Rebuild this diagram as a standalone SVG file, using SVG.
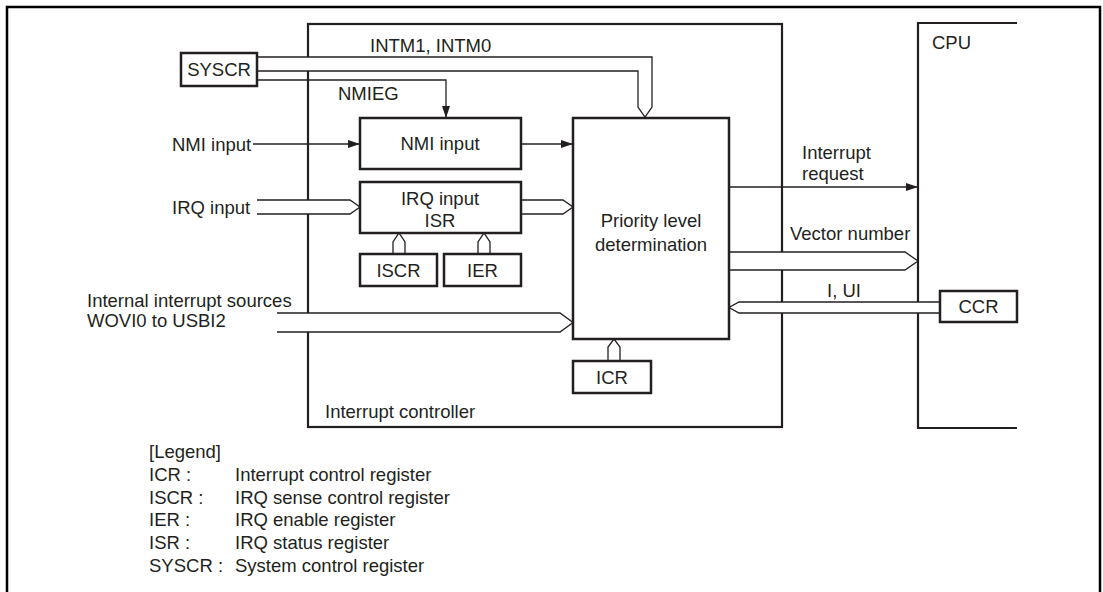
<svg xmlns="http://www.w3.org/2000/svg" width="1103" height="592" viewBox="0 0 1103 592">
<style>
  text { font-family: "Liberation Sans", Arial, sans-serif; font-size: 18.5px; fill: #231f20; }
  .c { text-anchor: middle; }
  .frame { fill: none; stroke: #000; stroke-width: 2.5; }
  .big { fill: none; stroke: #231f20; stroke-width: 2.2; }
  .box { fill: #fff; stroke: #231f20; stroke-width: 2.5; }
  .wire { fill: none; stroke: #231f20; stroke-width: 1.3; }
  .bus { fill: #fff; stroke: #231f20; stroke-width: 1.3; stroke-linejoin: miter; }
</style>
<defs>
  <marker id="arr" markerWidth="12" markerHeight="8" refX="12" refY="4" orient="auto" markerUnits="userSpaceOnUse">
    <path d="M0,0 L12,4 L0,8 Z" fill="#231f20"/>
  </marker>
</defs>
<rect width="1103" height="592" fill="#fff"/>
<path class="frame" d="M7,592 V7 H1100 V592"/>

<g id="controller">
  <rect class="big" x="308" y="24" width="474" height="403"/>
  <text x="325" y="418">Interrupt controller</text>
</g>
<g id="cpu">
  <path class="big" d="M1017,23 H918 V428 H1017"/>
  <text x="932" y="49">CPU</text>
</g>

<g id="connectors">
  <path class="bus" d="M257,57 H652 V107 L645,117 L638,107 V71 H257"/>
  <path class="wire" d="M257,80 H446 V118" marker-end="url(#arr)"/>
  <line class="wire" x1="253" y1="144" x2="360" y2="144" marker-end="url(#arr)"/>
  <line class="wire" x1="521" y1="144" x2="573" y2="144" marker-end="url(#arr)"/>
  <path class="bus" d="M257,200 H350 L360,207 L350,214 H257"/>
  <path class="bus" d="M521,200 H563 L573,207 L563,214 H521"/>
  <path class="bus" d="M393,254 V242 L399,233 L405,242 V254"/>
  <path class="bus" d="M478,254 V242 L484,233 L490,242 V254"/>
  <path class="bus" d="M277,313 H560 L573,322.5 L560,332 H277"/>
  <path class="bus" d="M608,361 V347 L614,339 L620,347 V361"/>
  <line class="wire" x1="729" y1="187" x2="918" y2="187" marker-end="url(#arr)"/>
  <path class="bus" d="M729,252 H905 L918,261 L905,270 H729"/>
  <path class="bus" d="M940,302 H739 L729,307.5 L739,313 H940"/>
</g>

<g id="syscr">
  <rect class="box" x="181" y="53" width="76" height="33"/>
  <text class="c" x="219" y="76">SYSCR</text>
</g>
<g id="nmi">
  <rect class="box" x="360" y="118" width="161" height="51"/>
  <text class="c" x="440" y="150">NMI input</text>
</g>
<g id="irq">
  <rect class="box" x="360" y="182" width="161" height="51"/>
  <text class="c" x="440" y="205">IRQ input</text>
  <text class="c" x="440" y="227">ISR</text>
</g>
<g id="iscr">
  <rect class="box" x="360" y="254" width="77" height="32"/>
  <text class="c" x="398.5" y="276.5">ISCR</text>
</g>
<g id="ier">
  <rect class="box" x="444" y="254" width="77" height="32"/>
  <text class="c" x="482.5" y="276.5">IER</text>
</g>
<g id="priority">
  <rect class="box" x="573" y="118" width="156" height="221"/>
  <text class="c" x="651" y="227">Priority level</text>
  <text class="c" x="651" y="251">determination</text>
</g>
<g id="icr">
  <rect class="box" x="573" y="361" width="78" height="32"/>
  <text class="c" x="612" y="383.5">ICR</text>
</g>
<g id="ccr">
  <rect class="box" x="940" y="291" width="77" height="31"/>
  <text class="c" x="978.5" y="313">CCR</text>
</g>

<g id="labels">
  <text x="370" y="52">INTM1, INTM0</text>
  <text x="338" y="100">NMIEG</text>
  <text x="172" y="150.5">NMI input</text>
  <text x="172" y="213.5">IRQ input</text>
  <text x="87" y="307">Internal interrupt sources</text>
  <text x="87" y="327">WOVI0 to USBI2</text>
  <text x="802" y="159">Interrupt</text>
  <text x="802" y="180">request</text>
  <text x="790" y="240">Vector number</text>
  <text x="827" y="296.5">I, UI</text>
</g>

<g id="legend">
  <text x="149" y="458">[Legend]</text>
  <text x="149" y="481">ICR :</text><text x="235" y="481">Interrupt control register</text>
  <text x="149" y="504">ISCR :</text><text x="235" y="504">IRQ sense control register</text>
  <text x="149" y="526">IER :</text><text x="235" y="526">IRQ enable register</text>
  <text x="149" y="549">ISR :</text><text x="235" y="549">IRQ status register</text>
  <text x="149" y="572">SYSCR :</text><text x="235" y="572">System control register</text>
</g>
</svg>
